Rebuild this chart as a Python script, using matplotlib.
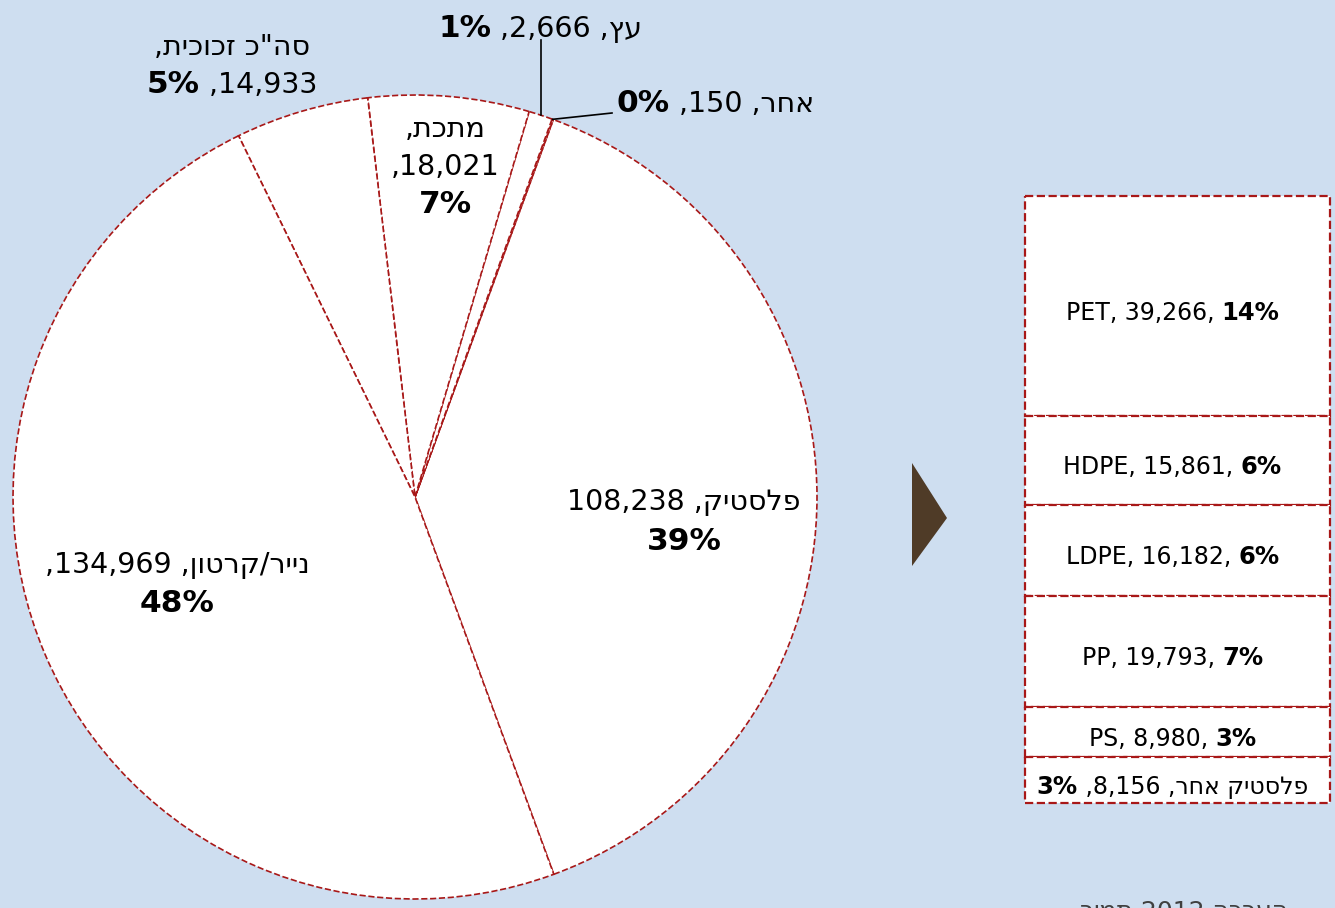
import numpy as np
import matplotlib
matplotlib.use("Agg")
import matplotlib.pyplot as plt
from matplotlib.patches import Polygon

W, H = 1335, 908
BG = "#cedef0"
EDGE = "#a81818"

plt.rcParams["font.family"] = ["DejaVu Sans"]


def heb(s):
    # matplotlib has no bidi, so hebrew runs are written in visual order
    return s[::-1]


# packaging waste by material (tons)
materials = ["פלסטיק", "אחר", "עץ", "מתכת", 'סה"כ זכוכית', "נייר/קרטון"]
tons = [108238, 150, 2666, 18021, 14933, 134969]
pcts = ["39%", "0%", "1%", "7%", "5%", "48%"]

# plastic breakdown (tons)
plastic_types = ["PET", "HDPE", "LDPE", "PP", "PS", "פלסטיק אחר"]
plastic_tons = [39266, 15861, 16182, 19793, 8980, 8156]
plastic_pcts = ["14%", "6%", "6%", "7%", "3%", "3%"]

source_note = heb("תמיר") + " 2012 " + heb("הערכה")

fig = plt.figure(figsize=(W / 100, H / 100), dpi=100, facecolor=BG)
ax = fig.add_axes([0, 0, 1, 1])
ax.set_facecolor(BG)
ax.set_zorder(2)  # labels drawn above the bar axes

cx, cy, r = 415, H - 497, 402
wedges, _ = ax.pie(
    tons,
    center=(cx, cy),
    radius=r,
    startangle=-69.8,
    counterclock=True,
    colors=["white"] * len(tons),
    wedgeprops=dict(edgecolor=EDGE, linestyle="--", linewidth=1.2),
)
ax.set_xlim(0, W)
ax.set_ylim(0, H)
ax.set_aspect("auto")
ax.axis("off")

renderer = fig.canvas.get_renderer()

NORM = 20.5
BOLD = 22.5


def fmt(n):
    return f"{n:,}"


def px(y):
    return H - y


def runs(x, y, parts, ha="center", size=NORM, bsize=BOLD):
    """parts: list of (text, is_bold), laid out left to right; x,y in pixels"""
    texts = []
    for s, b in parts:
        t = ax.text(0, 0, s, fontsize=bsize if b else size,
                    fontweight="bold" if b else "normal",
                    va="baseline", ha="left", color="black")
        texts.append(t)
    widths = [t.get_window_extent(renderer).width for t in texts]
    total = sum(widths)
    x0 = x - total / 2 if ha == "center" else x
    # baseline so that digit cap height of normal text is centred on y
    base = px(y) - 0.73 * size * 100 / 72 / 2
    for t, w in zip(texts, widths):
        t.set_position((x0, base))
        x0 += w


def edge_point(w):
    th = np.deg2rad((w.theta1 + w.theta2) / 2)
    return cx + r * np.cos(th), cy + r * np.sin(th)


# plastic
runs(684, 500, [(fmt(tons[0]) + " ," + heb(materials[0]), False)])
runs(684, 540, [(pcts[0], True)])
# paper
runs(177, 563, [("," + fmt(tons[5]) + " ," + heb(materials[5]), False)])
runs(177, 602, [(pcts[5], True)])
# metal
runs(445, 127, [("," + heb(materials[3]), False)])
runs(445, 165, [("," + fmt(tons[3]), False)])
runs(445, 203, [(pcts[3], True)])
# glass
runs(232, 45, [("," + heb(materials[4]), False)])
runs(232, 83, [(pcts[4], True), (" ," + fmt(tons[4]), False)])
# wood with leader
ex, ey = edge_point(wedges[2])
ax.plot([ex, ex], [ey, px(40)], color="black", lw=1.2)
runs(540, 27, [(pcts[2], True), (" ," + fmt(tons[2]) + " ," + heb(materials[2]), False)])
# other with leader
ex, ey = edge_point(wedges[1])
ax.plot([ex, 612], [ey, px(113)], color="black", lw=1.2)
runs(617, 102, [(pcts[1], True), (" ," + fmt(tons[1]) + " ," + heb(materials[1]), False)],
     ha="left")

# arrow between pie and bar
ax.add_patch(Polygon([(912, px(463)), (947, px(518)), (912, px(566))],
                     closed=True, color="#4f3b27", lw=0))

# source note, cut by the bottom edge
ax.text(1080, px(918), source_note, ha="left", va="baseline", fontsize=18, color="#404040")

# stacked bar of plastics
bx = fig.add_axes([1025 / W, (H - 803) / H, 305 / W, 607 / H])
bx.set_zorder(1)
bottoms = np.concatenate([[0], np.cumsum(plastic_tons)[:-1]])
bars = bx.bar(0, plastic_tons, bottom=bottoms, width=1, color="white",
              edgecolor=EDGE, linestyle="--", linewidth=1.6)
for b in bars:
    b.set_clip_on(False)
bx.set_xlim(-0.5, 0.5)
bx.set_ylim(sum(plastic_tons), 0)
bx.axis("off")

# bar labels, centred in each segment (computed via the bar axes transform)
to_px = bx.transData + ax.transData.inverted()
for i, (name, v, p) in enumerate(zip(plastic_types, plastic_tons, plastic_pcts)):
    mid = bottoms[i] + v / 2
    xm, ym = to_px.transform((0, mid))
    if name.isascii():
        parts = [(f"{name}, {fmt(v)}, ", False), (p, True)]
    else:
        parts = [(p, True), (" ," + fmt(v) + " ," + heb(name), False)]
    runs(xm - 5, H - ym + 5, parts, size=17, bsize=17.5)

fig.savefig("out.png", dpi=100, facecolor=BG)
